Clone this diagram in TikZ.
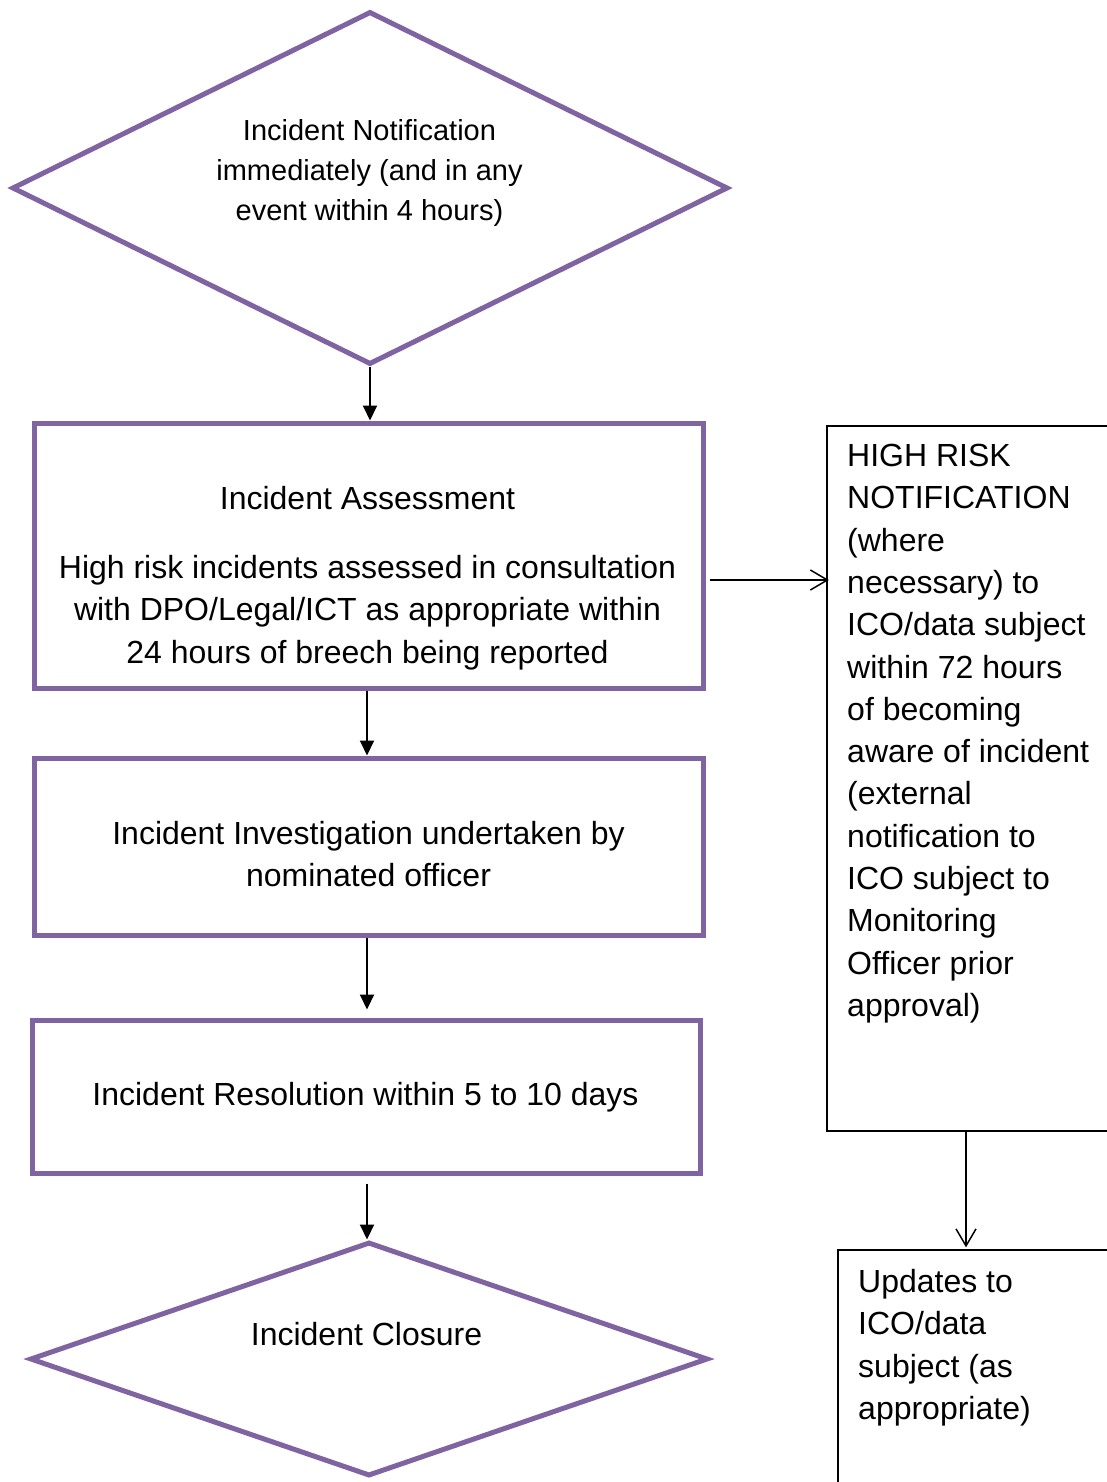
\documentclass[tikz,border=0pt]{standalone}
\usepackage{fontspec}
\setmainfont{Liberation Sans}
\usetikzlibrary{shapes.geometric,arrows.meta}
\definecolor{flowpurple}{HTML}{8064A2}
\tikzset{
  stage/.style={draw=flowpurple, line width=5pt, rectangle, inner sep=0pt},
  decision/.style={draw=flowpurple, line width=5pt, diamond, inner sep=0pt},
  note/.style={draw=black, line width=1.3pt, rectangle, inner sep=0pt},
  lbl/.style={inner sep=0pt, align=center, anchor=north, font=\fontsize{32}{42.5}\selectfont},
  notelbl/.style={inner sep=0pt, align=left, anchor=north west, font=\fontsize{32}{42.3}\selectfont},
  flow/.style={line width=2pt, -{Triangle[length=15pt,width=14pt]}},
  side/.style={line width=1.5pt, shorten >=2pt, -{Straight Barb[length=17pt,width=20pt]}}
}
\begin{document}
\begin{tikzpicture}[x=1pt,y=-1pt]
\clip (0,0) rectangle (1107,1482);
% left column
\node[decision, minimum width=716pt, minimum height=353pt] (notify) at (370,188) {};
\node[lbl, font=\fontsize{29}{40}\selectfont] (notifytext) at (369.5,119.5)
  {Incident Notification\\immediately (and in any\\event within 4 hours)};
\node[stage, minimum width=669pt, minimum height=265pt] (assess) at (368.5,555.5) {};
\node[lbl] (assesstext) at (367.5,486)
  {Incident Assessment\\[26.5pt]High risk incidents assessed in consultation\\with DPO/Legal/ICT as appropriate within\\24 hours of breech being reported};
\node[stage, minimum width=669pt, minimum height=177pt] (investigate) at (368.5,846.5) {};
\node[lbl] (investigatetext) at (368.5,821)
  {Incident Investigation undertaken by\\nominated officer};
\node[stage, minimum width=668pt, minimum height=153pt] (resolve) at (366,1096.5) {};
\node[lbl] (resolvetext) at (365.5,1082) {Incident Resolution within 5 to 10 days};
\node[decision, minimum width=678pt, minimum height=234pt] (closure) at (369,1359) {};
\node[lbl] (closuretext) at (366.5,1322) {Incident Closure};
% right column
\node[note, minimum width=293pt, minimum height=705pt] (hrisk) at (973.5,778.5) {};
\node[notelbl] (hrisktext) at (847,444)
  {HIGH RISK\\NOTIFICATION\\(where\\necessary) to\\ICO/data subject\\within 72 hours\\of becoming\\aware of incident\\(external\\notification to\\ICO subject to\\Monitoring\\Officer prior\\approval)};
\node[note, minimum width=282pt, minimum height=250pt] (update) at (979,1375) {};
\node[notelbl] (updatetext) at (858,1269)
  {Updates to\\ICO/data\\subject (as\\appropriate)};
\coordinate (downline) at (966,0);
% connectors
\draw[flow] (notify.south) -- (notify.south |- assess.north);
\draw[flow] ([xshift=-1.5pt]assess.south) -- ([xshift=-1.5pt]investigate.north);
\draw[flow, shorten >=8pt] ([xshift=-1.5pt]investigate.south) -- ([xshift=-1.5pt]investigate.south |- resolve.north);
\draw[flow, shorten <=8pt] ([xshift=1pt]resolve.south) -- ([xshift=1pt]resolve.south |- closure.north);
\draw[side] ([shift={(4.5,24.5)}]assess.east) -- ([shift={(4.5,24.5)}]assess.east -| hrisk.west);
\draw[side] (hrisk.south -| downline) -- (update.north -| downline);
\end{tikzpicture}
\end{document}
